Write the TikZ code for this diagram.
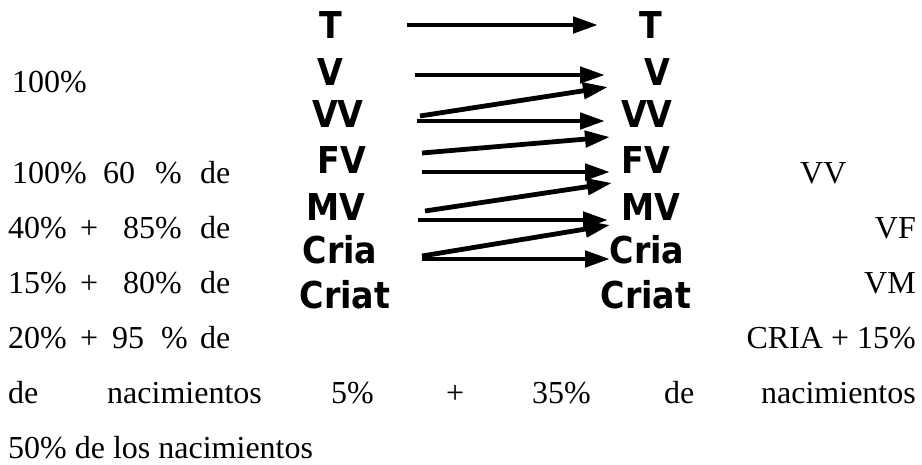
\documentclass[tikz,border=0pt]{standalone}
\usepackage{fontspec}
\setmainfont{Liberation Serif}
\newfontfamily\codefont{DejaVu Sans Condensed}
\usetikzlibrary{arrows.meta}
\begin{document}
\begin{tikzpicture}[x=1pt,y=-1pt,
		word/.style={anchor=base west,inner sep=0pt,font=\fontsize{32}{38}\selectfont},
		wordend/.style={word,anchor=base east},
		code/.style={anchor=base,inner sep=0pt,font=\codefont\bfseries\fontsize{37}{40}\selectfont},
		flow/.style={line width=4.8pt,-{Triangle[length=25pt,width=16pt]}}]
	\useasboundingbox (0,0) rectangle (922,464);
	% categories, before and after
	\foreach \n/\xa/\xb/\yb in {T/331/651/38, V/330/657/85, VV/338/647/127, FV/342/646/173, MV/336/651/220, Cria/340/647/263, Criat/345/646/308}{
		\node [code] (l\n) at (\xa,\yb) {\n};
		\node [code] (r\n) at (\xb,\yb) {\n};
	}
	% straight transfers
	\foreach \n/\xs/\xe/\y in {T/407/598/25, V/415/605/75, VV/417/605/121, FV/422/610/172, MV/418/608/220, Cria/422/610/259}{
		\coordinate (s\n) at (\xs,\y);
		\coordinate (e\n) at (\xe,\y);
		\draw [flow] (s\n) -- (e\n);
	}
	% promotions to the row above
	\foreach \n/\xs/\ys/\xe/\ye in {VV/420/116/608/87, FV/422/153/610/137, MV/425/211/612/183, Cria/422/256/610/225}{
		\coordinate (u\n) at (\xs,\ys);
		\coordinate (v\n) at (\xe,\ye);
		\draw [flow] (u\n) -- (v\n);
	}
	% text round the picture
	\node [word] (a1) at (12,92) {100\%};
	\node [word] (b1) at (12,183) {100\%};
	\node [word] (b2) at (103,183) {60};
	\node [word] (b3) at (155,183) {\%};
	\node [word] (b4) at (200,183) {de};
	\node [word] (b5) at (800,183) {VV};
	\node [word] (c1) at (8,238) {40\%};
	\node [word] (c2) at (80,238) {+};
	\node [word] (c3) at (123,238) {85\%};
	\node [word] (c4) at (200,238) {de};
	\node [wordend] (c5) at (916,238) {VF};
	\node [word] (d1) at (8,293) {15\%};
	\node [word] (d2) at (80,293) {+};
	\node [word] (d3) at (123,293) {80\%};
	\node [word] (d4) at (200,293) {de};
	\node [wordend] (d5) at (916,293) {VM};
	\node [word] (f1) at (8,348) {20\%};
	\node [word] (f2) at (80,348) {+};
	\node [word] (f3) at (112,348) {95};
	\node [word] (f4) at (161,348) {\%};
	\node [word] (f5) at (200,348) {de};
	\node [wordend] (f6) at (916,348) {CRIA + 15\%};
	\node [word] (g1) at (8,403) {de};
	\node [word] (g2) at (107,403) {nacimientos};
	\node [word] (g3) at (331,403) {5\%};
	\node [word] (g4) at (446,403) {+};
	\node [word] (g5) at (532,403) {35\%};
	\node [word] (g6) at (664,403) {de};
	\node [wordend] (g7) at (916,403) {nacimientos};
	\node [word] (h1) at (8,458) {50\% de los nacimientos};
\end{tikzpicture}
\end{document}
